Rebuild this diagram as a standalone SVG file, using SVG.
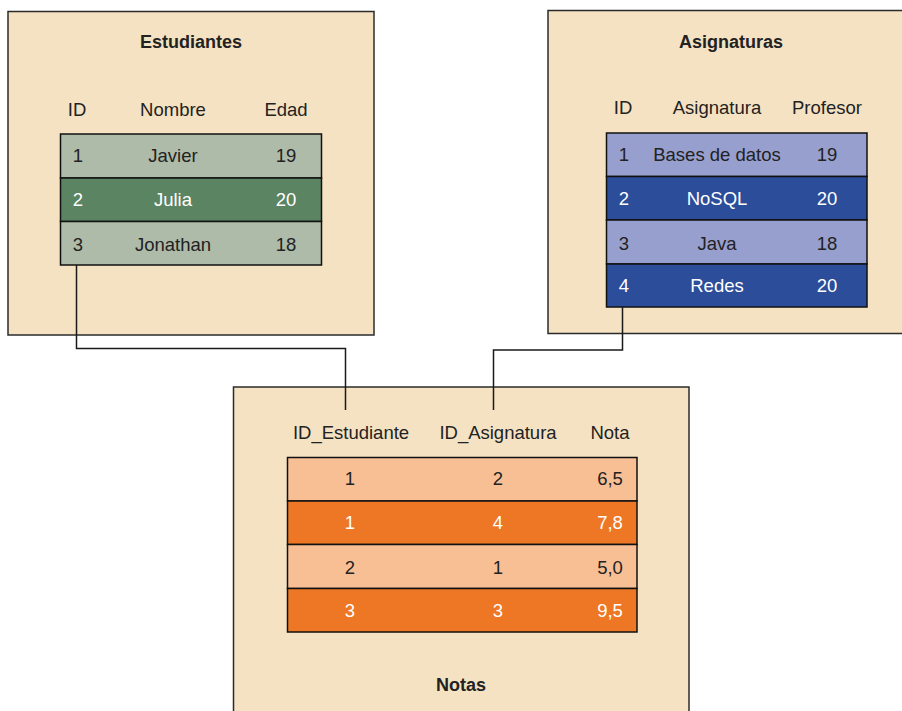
<svg xmlns="http://www.w3.org/2000/svg" width="902" height="711" viewBox="0 0 902 711">
<style>
.box{fill:#F5E2C2;stroke:#2b2b2b;stroke-width:1.5}
.tb{stroke:#111;stroke-width:1.5}
text{font-family:"Liberation Sans",Arial,sans-serif;font-size:18.5px;fill:#222;text-anchor:middle}
.title{font-weight:bold;font-size:18px}
.w{fill:#fff}
.gl{fill:#AEBBA9}.gd{fill:#5B8463}
.bl{fill:#979FCE}.bd{fill:#2B4D9A}
.ol{fill:#F8BF94}.od{fill:#ED7724}
.con{fill:none;stroke:#1a1a1a;stroke-width:1.5}
</style>
<rect x="0" y="0" width="902" height="711" fill="#fff"/>
<g id="estudiantes">
<rect class="box" x="8" y="11.5" width="366" height="323.5"/>
<text class="title" x="191" y="48">Estudiantes</text>
<text x="77" y="116">ID</text><text x="173" y="116">Nombre</text><text x="286" y="116">Edad</text>
<rect class="gl tb" x="60.5" y="134" width="261" height="44"/>
<rect class="gd tb" x="60.5" y="178" width="261" height="43.5"/>
<rect class="gl tb" x="60.5" y="221.5" width="261" height="43.5"/>
<text x="78" y="161.5">1</text><text x="173" y="161.5">Javier</text><text x="286" y="161.5">19</text>
<text class="w" x="78" y="206">2</text><text class="w" x="173" y="206">Julia</text><text class="w" x="286" y="206">20</text>
<text x="78" y="250.5">3</text><text x="173" y="250.5">Jonathan</text><text x="286" y="250.5">18</text>
</g>
<g id="asignaturas">
<rect class="box" x="548" y="10.5" width="362" height="323"/>
<text class="title" x="731" y="48">Asignaturas</text>
<text x="623" y="114">ID</text><text x="717" y="114">Asignatura</text><text x="827" y="114">Profesor</text>
<rect class="bl tb" x="606.5" y="133" width="260.5" height="43.5"/>
<rect class="bd tb" x="606.5" y="176.5" width="260.5" height="43.5"/>
<rect class="bl tb" x="606.5" y="220" width="260.5" height="44"/>
<rect class="bd tb" x="606.5" y="264" width="260.5" height="43"/>
<text x="624" y="160.5">1</text><text x="717" y="160.5">Bases de datos</text><text x="827" y="160.5">19</text>
<text class="w" x="624" y="205">2</text><text class="w" x="717" y="205">NoSQL</text><text class="w" x="827" y="205">20</text>
<text x="624" y="249.5">3</text><text x="717" y="249.5">Java</text><text x="827" y="249.5">18</text>
<text class="w" x="624" y="292">4</text><text class="w" x="717" y="292">Redes</text><text class="w" x="827" y="292">20</text>
</g>
<g id="notas">
<rect class="box" x="233.5" y="387" width="455.5" height="340"/>
<text x="351" y="439">ID_Estudiante</text><text x="498" y="439">ID_Asignatura</text><text x="610" y="439">Nota</text>
<rect class="ol tb" x="287.5" y="457.5" width="349.5" height="43.5"/>
<rect class="od tb" x="287.5" y="501" width="349.5" height="43.5"/>
<rect class="ol tb" x="287.5" y="544.5" width="349.5" height="44"/>
<rect class="od tb" x="287.5" y="588.5" width="349.5" height="43.5"/>
<text x="350" y="484.5">1</text><text x="498" y="484.5">2</text><text x="610" y="484.5">6,5</text>
<text class="w" x="350" y="529">1</text><text class="w" x="498" y="529">4</text><text class="w" x="610" y="529">7,8</text>
<text x="350" y="573.5">2</text><text x="498" y="573.5">1</text><text x="610" y="573.5">5,0</text>
<text class="w" x="350" y="616.5">3</text><text class="w" x="498" y="616.5">3</text><text class="w" x="610" y="616.5">9,5</text>
<text class="title" x="461" y="691">Notas</text>
</g>
<g id="connectors">
<polyline class="con" points="76.5,265 76.5,348.5 345.5,348.5 345.5,410"/>
<polyline class="con" points="622.5,307 622.5,350 493.5,350 493.5,410"/>
</g>
</svg>
